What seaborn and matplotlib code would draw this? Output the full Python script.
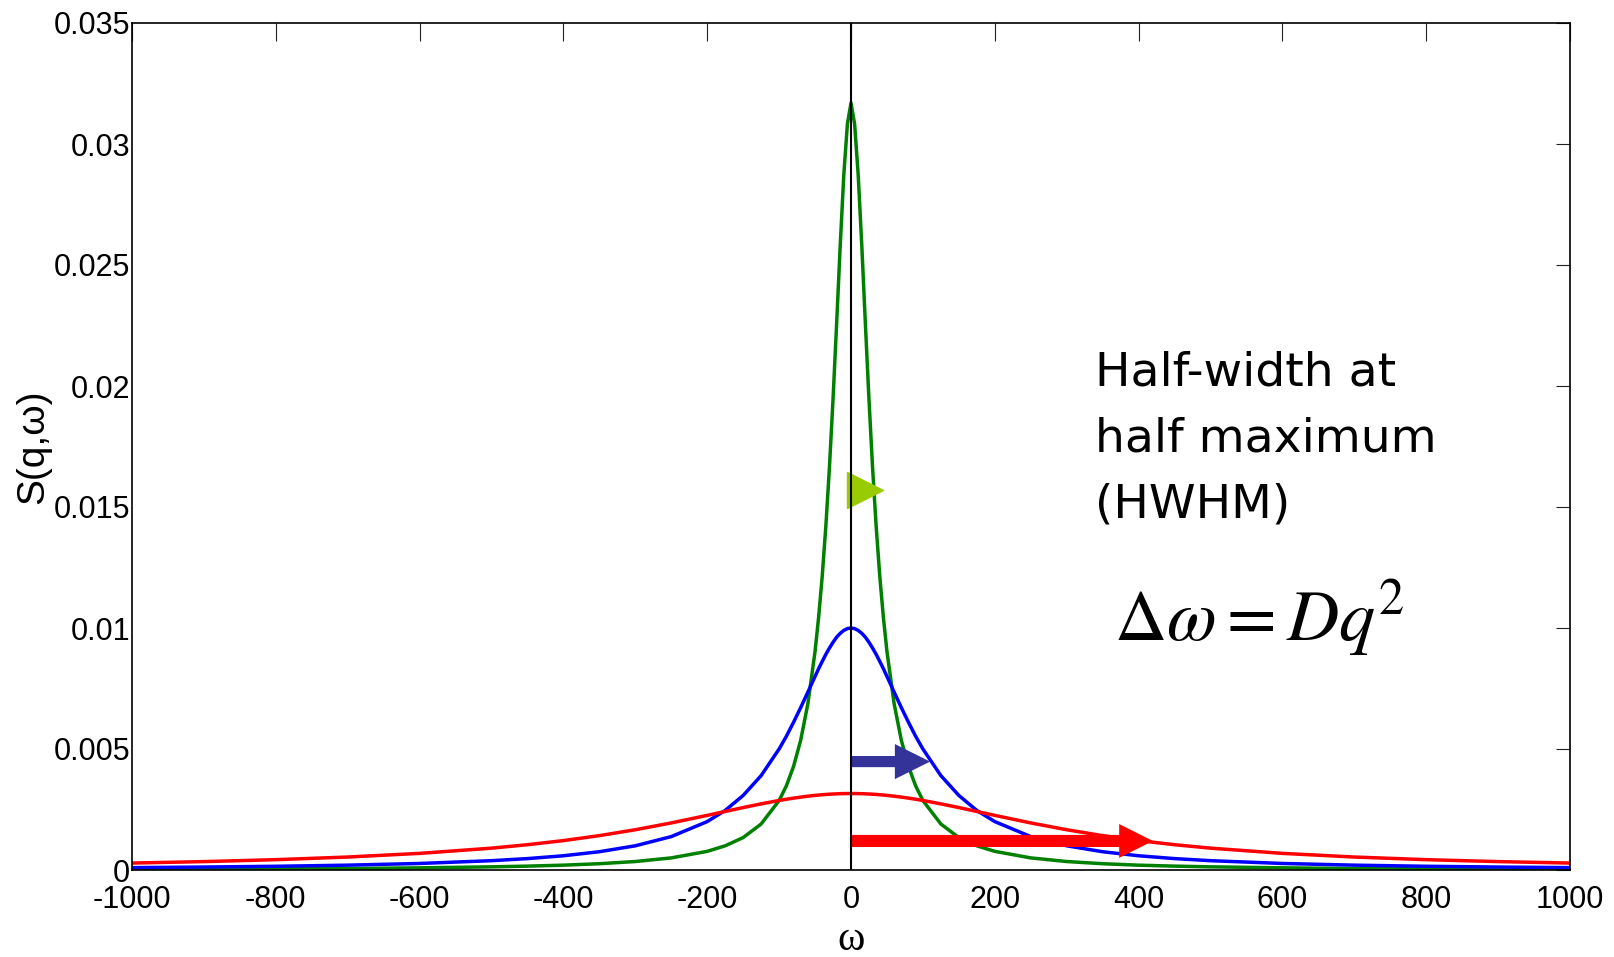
import matplotlib
matplotlib.use("Agg")
import matplotlib.pyplot as plt
import seaborn as sns
import pandas as pd

# ---------------- data ----------------
omega = [-1000, -900, -800, -700, -600, -500, -450, -400, -350, -300, -250, -200,
         -175, -150, -125, -100, -90, -80, -70, -60, -50, -45, -40, -35, -30, -25,
         -20, -15, -10, -5, 0, 5, 10, 15, 20, 25, 30, 35, 40, 45, 50, 60, 70, 80,
         90, 100, 125, 150, 175, 200, 250, 300, 350, 400, 450, 500, 600, 700, 800,
         900, 1000]

s_green = [0.00003, 0.00004, 0.00005, 0.00006, 0.00009, 0.00013, 0.00016, 0.00020,
           0.00026, 0.00035, 0.00050, 0.00077, 0.00100, 0.00134, 0.00190, 0.00287,
           0.00347, 0.00427, 0.00536, 0.00687, 0.00903, 0.01045, 0.01215, 0.01420,
           0.01663, 0.01945, 0.02257, 0.02580, 0.02873, 0.03083, 0.03170, 0.03083,
           0.02873, 0.02580, 0.02257, 0.01945, 0.01663, 0.01420, 0.01215, 0.01045,
           0.00903, 0.00687, 0.00536, 0.00427, 0.00347, 0.00287, 0.00190, 0.00134,
           0.00100, 0.00077, 0.00050, 0.00035, 0.00026, 0.00020, 0.00016, 0.00013,
           0.00009, 0.00006, 0.00005, 0.00004, 0.00003]

s_blue = [0.000099, 0.000122, 0.000154, 0.000200, 0.000270, 0.000385, 0.000471,
          0.000588, 0.000755, 0.001000, 0.001380, 0.002000, 0.002460, 0.003080,
          0.003900, 0.005000, 0.005520, 0.006100, 0.006710, 0.007350, 0.008000,
          0.008320, 0.008620, 0.008910, 0.009170, 0.009410, 0.009620, 0.009780,
          0.009900, 0.009975, 0.010000, 0.009975, 0.009900, 0.009780, 0.009620,
          0.009410, 0.009170, 0.008910, 0.008620, 0.008320, 0.008000, 0.007350,
          0.006710, 0.006100, 0.005520, 0.005000, 0.003900, 0.003080, 0.002460,
          0.002000, 0.001380, 0.001000, 0.000755, 0.000588, 0.000471, 0.000385,
          0.000270, 0.000200, 0.000154, 0.000122, 0.000099]

s_red = [0.000287, 0.000347, 0.000427, 0.000536, 0.000687, 0.000903, 0.001045,
         0.001215, 0.001420, 0.001663, 0.001945, 0.002257, 0.002419, 0.002580,
         0.002733, 0.002873, 0.002923, 0.002970, 0.003012, 0.003050, 0.003083,
         0.003097, 0.003110, 0.003122, 0.003132, 0.003140, 0.003147, 0.003153,
         0.003157, 0.003159, 0.003160, 0.003159, 0.003157, 0.003153, 0.003147,
         0.003140, 0.003132, 0.003122, 0.003110, 0.003097, 0.003083, 0.003050,
         0.003012, 0.002970, 0.002923, 0.002873, 0.002733, 0.002580, 0.002419,
         0.002257, 0.001945, 0.001663, 0.001420, 0.001215, 0.001045, 0.000903,
         0.000687, 0.000536, 0.000427, 0.000347, 0.000287]

curve_names = ["green", "blue", "red"]
curve_colors = {"green": "#008000", "blue": "#0000FF", "red": "#FF0000"}

xticks = [-1000, -800, -600, -400, -200, 0, 200, 400, 600, 800, 1000]
xtick_labels = ["-1000", "-800", "-600", "-400", "-200", "0", "200", "400", "600", "800", "1000"]
yticks = [0, 0.005, 0.01, 0.015, 0.02, 0.025, 0.03, 0.035]
ytick_labels = ["0", "0.005", "0.01", "0.015", "0.02", "0.025", "0.03", "0.035"]

# HWHM indicators
green_marker = (20, 0.0157)
blue_arrow = (0, 110, 0.00448)
red_arrow = (0, 420, 0.0012)

# ---------------- build table ----------------
df = pd.concat([
    pd.DataFrame({"omega": omega, "S": s_green, "curve": "green"}),
    pd.DataFrame({"omega": omega, "S": s_blue, "curve": "blue"}),
    pd.DataFrame({"omega": omega, "S": s_red, "curve": "red"}),
], ignore_index=True)

# ---------------- plot ----------------
sns.set_style("white")
plt.rcParams["font.family"] = ["Liberation Sans", "DejaVu Sans"]
plt.rcParams["mathtext.fontset"] = "stix"
plt.rcParams["text.color"] = "black"
plt.rcParams["axes.labelcolor"] = "black"
plt.rcParams["xtick.color"] = "black"
plt.rcParams["ytick.color"] = "black"

fig = plt.figure(figsize=(16.14, 9.57), dpi=100)
ax = fig.add_axes([132 / 1614, 1 - 870 / 957, 1438 / 1614, 847 / 957])

sns.lineplot(data=df, x="omega", y="S", hue="curve", hue_order=curve_names,
             palette=curve_colors, estimator=None, sort=False, linewidth=2.5,
             legend=False, ax=ax, zorder=2)

# green half-width marker
ax.plot([green_marker[0]], [green_marker[1]], marker=">", markersize=26,
        color="#99CC00", linestyle="none", zorder=3)

# blue and red half-width arrows
ax.arrow(blue_arrow[0], blue_arrow[2], blue_arrow[1] - blue_arrow[0], 0,
         width=0.00046, head_width=0.00145, head_length=49,
         length_includes_head=True, color="#333399", zorder=4, linewidth=0)
ax.arrow(red_arrow[0], red_arrow[2], red_arrow[1] - red_arrow[0], 0,
         width=0.0005, head_width=0.0014, head_length=47,
         length_includes_head=True, color="#FF0000", zorder=4, linewidth=0)

ax.axvline(0, color="black", linewidth=1.5, zorder=5)

ax.set_xlim(-1000, 1000)
ax.set_ylim(0, 0.035)
ax.set_xticks(xticks)
ax.set_xticklabels(xtick_labels)
ax.set_yticks(yticks)
ax.set_yticklabels(ytick_labels)

ax.tick_params(axis="both", direction="in", top=True, right=True,
               width=0.8, color="#222222", labelsize=22, labelcolor="black")
ax.tick_params(axis="x", length=13, pad=11)
ax.tick_params(axis="y", length=10, pad=1.5)
for sp in ax.spines.values():
    sp.set_color("black")
    sp.set_linewidth(1.2)

ax.set_xlabel("ω", fontfamily=["Liberation Serif", "DejaVu Serif"], fontsize=30,
              labelpad=4)
ax.set_ylabel("S(q,ω)", fontsize=28)
ax.yaxis.set_label_coords(-0.056, 0.5)

ax.text(340, 0.01455, "Half-width at\nhalf maximum\n(HWHM)", fontsize=34,
        fontfamily=["DejaVu Sans"], ha="left", va="baseline", linespacing=1.6,
        color="black")
ax.text(366, 0.0095, r"$\Delta\omega = Dq^2$", fontsize=52,
        ha="left", va="baseline", color="black")

fig.savefig("out.png", dpi=100, facecolor="white")
